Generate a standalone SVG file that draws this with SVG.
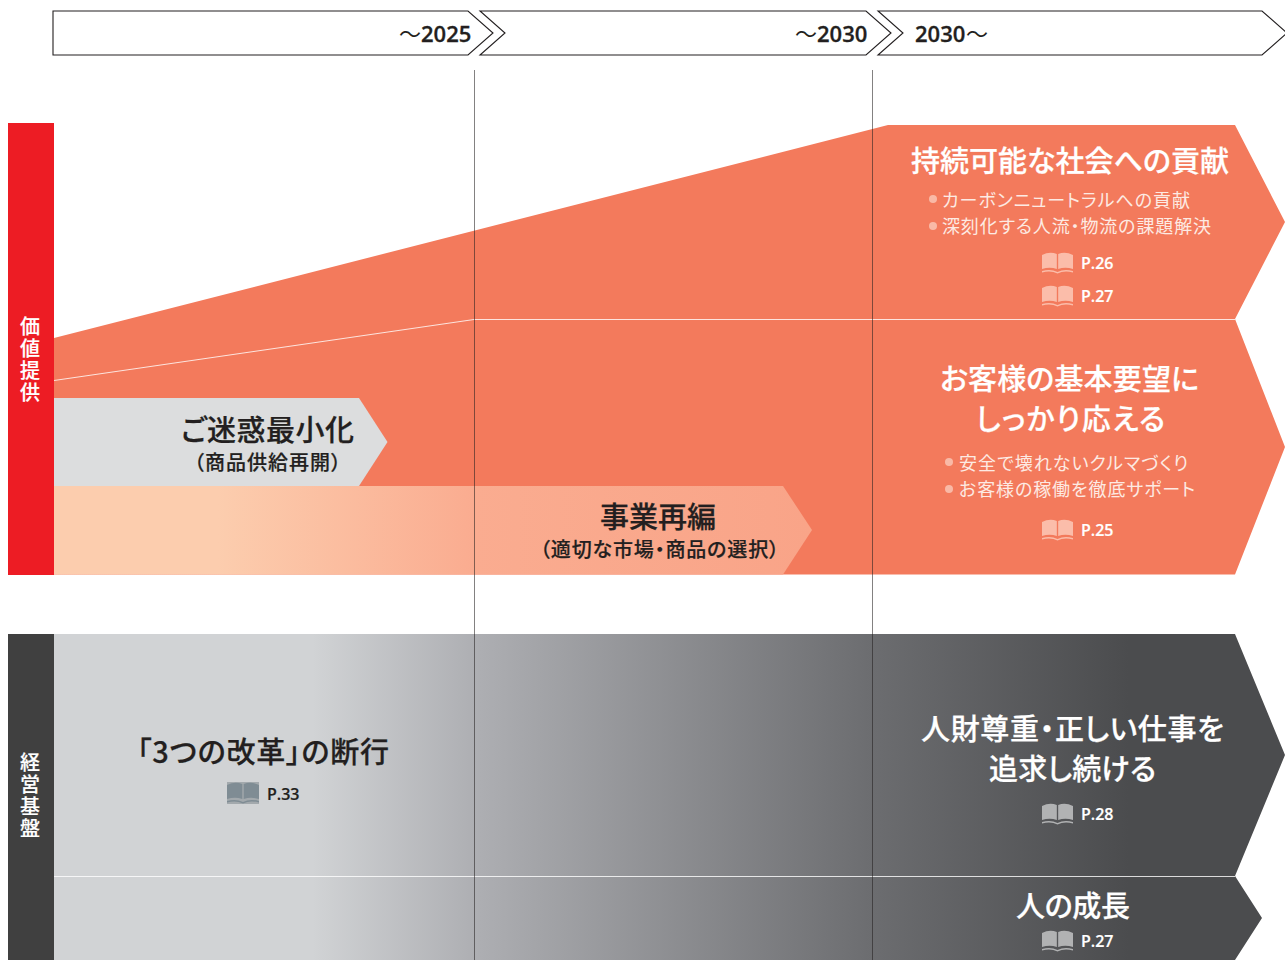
<svg xmlns="http://www.w3.org/2000/svg" xmlns:xlink="http://www.w3.org/1999/xlink" width="1285" height="960" viewBox="0 0 1285 960">
<style>
text{font-family:"Noto Sans CJK JP","Noto Sans",sans-serif;font-weight:500;font-feature-settings:"palt"}
.h{font-size:29px;fill:#fff;stroke:#fff;stroke-width:.25}
.hd{font-size:29px;fill:#231f20;stroke:#231f20;stroke-width:.25}
.s{font-size:20px;fill:#231f20;stroke:#231f20;stroke-width:.2}
.b{font-size:18px;fill:#fdeae3;font-weight:400}
.p{font-family:"Open Sans",sans-serif;font-size:16px;font-weight:600;fill:#fff;stroke:#fff;stroke-width:.2}
.pd{font-family:"Open Sans",sans-serif;font-size:16px;font-weight:600;fill:#231f20;stroke:#231f20;stroke-width:.2}
.y{font-family:"Open Sans",sans-serif;font-size:22px;font-weight:600;fill:#231f20;stroke:#231f20;stroke-width:.3}
.yc{font-size:22px;fill:#231f20;font-weight:400}
.v{font-size:20px;fill:#fff;stroke:#fff;stroke-width:.2;writing-mode:vertical-rl;letter-spacing:2.300px;font-feature-settings:normal}
.arr{fill:#fff;stroke:#231f20;stroke-width:1.100}
.sep{stroke:#fff;stroke-width:1;fill:none;opacity:.8}
.vl{stroke:#231f20;stroke-width:.8;opacity:.7}
.dot{fill:#f9b9a6}
</style>
<defs>
<linearGradient id="peach" gradientUnits="userSpaceOnUse" x1="54" y1="0" x2="812" y2="0">
<stop offset="0.216" stop-color="#fccdae"/><stop offset="0.554" stop-color="#faac90"/><stop offset="1" stop-color="#f9a488"/>
</linearGradient>
<linearGradient id="grey" gradientUnits="userSpaceOnUse" x1="54" y1="0" x2="1285" y2="0">
<stop offset="0.21" stop-color="#d1d3d5"/><stop offset="0.341" stop-color="#aeafb3"/><stop offset="0.664" stop-color="#6c6d70"/><stop offset="0.873" stop-color="#4b4c4e"/><stop offset="1" stop-color="#4b4c4e"/>
</linearGradient>
<symbol id="book" viewBox="0 0 32 22" overflow="visible" preserveAspectRatio="none">
<path d="M0 3Q8 -1 15.300 2V17Q8 14.500 0 17Z"/>
<path d="M16.700 2Q24 -1 32 3V17Q24 14.500 16.700 17Z"/>
<path d="M0 19Q9 16.500 16 20Q23 16.500 32 19V20.500Q23 18 16 21.500Q9 18 0 20.500Z"/>
</symbol>
</defs>
<g id="timeline">
<polygon class="arr" points="53,11 468,11 493,33 468,55 53,55"/>
<polygon class="arr" points="480,11 866,11 891,33 866,55 480,55 505,33"/>
<polygon class="arr" points="878,11 1262,11 1287,33 1262,55 878,55 903,33"/>
<text class="yc" x="399" y="42">〜</text><text class="y" x="421" y="42">2025</text>
<text class="yc" x="795" y="42">〜</text><text class="y" x="817" y="42">2030</text>
<text class="y" x="915" y="42">2030</text><text class="yc" x="966" y="42">〜</text>
</g>
<g id="value-bar">
<rect x="8" y="123" width="46" height="452" fill="#ed1c24"/>
<text class="v" x="30" y="316">価値提供</text>
</g>
<g id="base-bar">
<rect x="8" y="634" width="46" height="326" fill="#404040"/>
<text class="v" x="30" y="752">経営基盤</text>
</g>
<g id="value-area">
<polygon fill="#f37a5c" points="54,338 888,125 1235,125 1285,222 1235,319 1285,447 1235,574.500 54,574.500"/>
</g>
<g id="minimize">
<polygon fill="#dcddde" points="54,398 359,398 387.500,442 359,486 54,486"/>
<text class="hd" x="181" y="441" textLength="173">ご迷惑最小化</text>
<text class="s" x="194" y="470" textLength="147">（商品供給再開）</text>
</g>
<g id="restructure">
<polygon fill="url(#peach)" points="54,486 783,486 812,530 783,574.500 54,574.500"/>
<text class="hd" x="600" y="528" textLength="116">事業再編</text>
<text class="s" x="540" y="557" textLength="239">（適切な市場・商品の選択）</text>
</g>
<g id="contribution">
<text class="h" x="911" y="172" textLength="318">持続可能な社会への貢献</text>
<circle class="dot" cx="933" cy="199" r="4"/><text class="b" x="942" y="207" textLength="248">カーボンニュートラルへの貢献</text>
<circle class="dot" cx="933" cy="226" r="4"/><text class="b" x="942" y="233" textLength="269">深刻化する人流・物流の課題解決</text>
<use xlink:href="#book" href="#book" x="1042" y="252" width="31" height="22" fill="#fbbdaa"/><text class="p" x="1081" y="269">P.26</text>
<use xlink:href="#book" href="#book" x="1042" y="285" width="31" height="22" fill="#fbbdaa"/><text class="p" x="1081" y="302">P.27</text>
</g>
<g id="basic-needs">
<text class="h" x="940" y="390" textLength="259">お客様の基本要望に</text>
<text class="h" x="976" y="430" textLength="189">しっかり応える</text>
<circle class="dot" cx="949" cy="462" r="4"/><text class="b" x="959" y="470" textLength="229">安全で壊れないクルマづくり</text>
<circle class="dot" cx="949" cy="489" r="4"/><text class="b" x="959" y="496" textLength="236">お客様の稼働を徹底サポート</text>
<use xlink:href="#book" href="#book" x="1042" y="519" width="31" height="22" fill="#fbbdaa"/><text class="p" x="1081" y="536">P.25</text>
</g>
<g id="base-area">
<polygon fill="url(#grey)" points="54,634 1235,634 1285,755 1235,876 1262,918 1235,960 54,960"/>
</g>
<g id="reform">
<text class="hd" x="137" y="763" textLength="252">「3つの改革」の断行</text>
<rect x="227" y="782" width="32" height="22" fill="#a3a9ad"/>
<use xlink:href="#book" href="#book" x="227" y="782" width="32" height="22" fill="#7f8c94"/><text class="pd" x="267" y="800">P.33</text>
</g>
<g id="people-respect">
<text class="h" x="921" y="740" textLength="303">人財尊重・正しい仕事を</text>
<text class="h" x="989" y="780" textLength="167">追求し続ける</text>
<use xlink:href="#book" href="#book" x="1042" y="803" width="31" height="22" fill="#b1b2b3"/><text class="p" x="1081" y="820">P.28</text>
</g>
<g id="people-growth">
<text class="h" x="1016" y="917" textLength="114">人の成長</text>
<use xlink:href="#book" href="#book" x="1042" y="930" width="31" height="22" fill="#b1b2b3"/><text class="p" x="1081" y="947">P.27</text>
</g>
<g id="connectors">
<polyline class="sep" points="54,380.500 474,319.500 1235,319.500"/>
<line class="sep" x1="54" y1="876.500" x2="1235" y2="876.500"/>
<line class="vl" x1="474.500" y1="70" x2="474.500" y2="960"/>
<line class="vl" x1="872.500" y1="70" x2="872.500" y2="960"/>
</g>
</svg>
